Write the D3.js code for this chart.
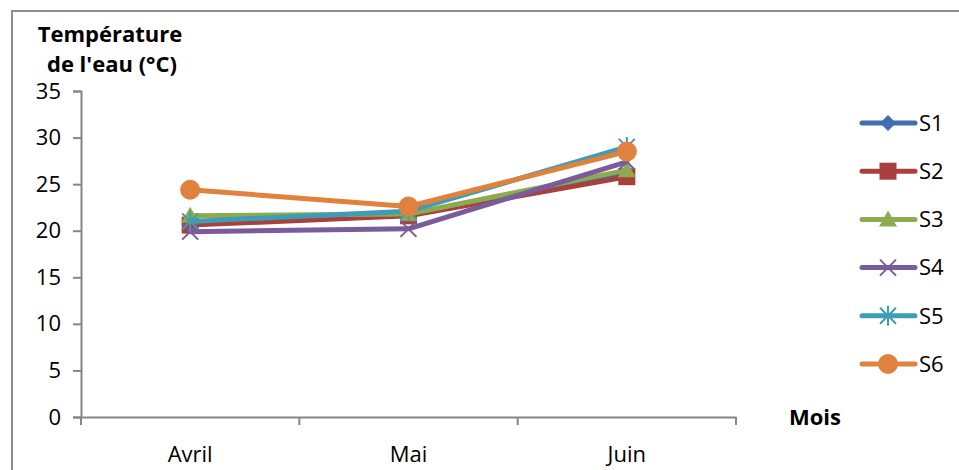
<!DOCTYPE html>
<html><head><meta charset="utf-8">
<script src="https://cdn.jsdelivr.net/npm/d3@7"></script>
<style>body{margin:0;background:#fff}svg{display:block}</style>
</head><body>
<script>
const months = ["Avril", "Mai", "Juin"];
const seriesNames = ["S1", "S2", "S3", "S4", "S5", "S6"];
const S1 = [20.8, 21.7, 26.0];
const S2 = [20.6, 21.6, 25.8];
const S3 = [21.6, 21.8, 26.5];
const S4 = [19.9, 20.2, 27.4];
const S5 = [21.0, 22.1, 29.0];
const S6 = [24.4, 22.6, 28.5];
const yTicks = [0, 5, 10, 15, 20, 25, 30, 35];
const colors = ["#3F6FAE", "#A9403D", "#8CAA4E", "#7A5B9B", "#3E9CB7", "#E0823D"];
const markers = ["diamond", "square", "triangle", "x", "star", "circle"];
const values = [S1, S2, S3, S4, S5, S6];

const W = 959, H = 470;
const svg = d3.select("body").append("svg").attr("width", W).attr("height", H);
const font = "'Open Sans', sans-serif";
const fs = 22;

svg.append("rect").attr("x", 12).attr("y", 11).attr("width", 960).attr("height", 480)
  .attr("fill", "none").attr("stroke", "#8c8c8c").attr("stroke-width", 2);

const x = d3.scaleBand().domain(months).range([81, 736]);
const y = d3.scaleLinear().domain([0, 35]).range([417, 91]);

// y axis
const yAx = svg.append("g").attr("transform", "translate(81,0)")
  .call(d3.axisLeft(y).tickValues(yTicks).tickSize(8).tickPadding(12));
yAx.select(".domain").attr("stroke", "#868686").attr("stroke-width", 2);
yAx.selectAll(".tick line").attr("stroke", "#868686").attr("stroke-width", 2);
yAx.selectAll("text").attr("font-family", font).attr("font-size", fs).attr("fill", "#000");

// x axis
const xAx = svg.append("g").attr("transform", "translate(0,417)")
  .call(d3.axisBottom(x).tickSize(0).tickPadding(29));
xAx.select(".domain").attr("stroke", "#868686").attr("stroke-width", 2);
xAx.selectAll("text").attr("font-family", font).attr("font-size", fs).attr("fill", "#000");
const bounds = months.map(m => x(m)).concat([x(months[months.length-1]) + x.bandwidth()]);
xAx.selectAll(".sep").data(bounds).enter().append("line")
  .attr("x1", d => d).attr("x2", d => d).attr("y1", 0).attr("y2", 8)
  .attr("stroke", "#868686").attr("stroke-width", 2);

// titles
const t = svg.append("text").attr("font-family", font).attr("font-size", fs).attr("font-weight", "bold")
  .attr("text-anchor", "middle");
t.append("tspan").attr("x", 110).attr("y", 42).text("Température");
t.append("tspan").attr("x", 112).attr("y", 72).text("de l'eau (°C)");
svg.append("text").attr("x", 789).attr("y", 425).attr("font-family", font).attr("font-size", fs)
  .attr("font-weight", "bold").text("Mois");

function drawMarker(g, type, cx, cy, color) {
  if (type === "diamond") {
    g.append("path").attr("d", `M${cx},${cy-8}L${cx+8},${cy}L${cx},${cy+8}L${cx-8},${cy}Z`).attr("fill", color);
  } else if (type === "square") {
    g.append("rect").attr("x", cx-8.5).attr("y", cy-8.5).attr("width", 17).attr("height", 17).attr("fill", color);
  } else if (type === "triangle") {
    g.append("path").attr("d", `M${cx},${cy-9}L${cx+9},${cy+7}L${cx-9},${cy+7}Z`).attr("fill", color);
  } else if (type === "x") {
    g.append("path").attr("d", `M${cx-8},${cy-8}L${cx+8},${cy+8}M${cx+8},${cy-8}L${cx-8},${cy+8}`)
      .attr("stroke", color).attr("stroke-width", 2);
  } else if (type === "star") {
    g.append("path").attr("d", `M${cx-8},${cy-8}L${cx+8},${cy+8}M${cx+8},${cy-8}L${cx-8},${cy+8}M${cx},${cy-10}L${cx},${cy+10}`)
      .attr("stroke", color).attr("stroke-width", 2);
  } else if (type === "circle") {
    g.append("circle").attr("cx", cx).attr("cy", cy).attr("r", 10).attr("fill", color);
  }
}

const line = d3.line().x((d, i) => x(months[i]) + x.bandwidth()/2).y(d => y(d));
values.forEach((vals, si) => {
  const g = svg.append("g");
  g.append("path").attr("d", line(vals)).attr("fill", "none").attr("stroke", colors[si])
    .attr("stroke-width", 5).attr("stroke-linejoin", "round").attr("stroke-linecap", "round");
  vals.forEach((v, i) => drawMarker(g, markers[si], x(months[i]) + x.bandwidth()/2, y(v), colors[si]));
});

// legend
seriesNames.forEach((name, si) => {
  const ly = 123 + si * 48.2;
  const g = svg.append("g");
  g.append("line").attr("x1", 862).attr("x2", 915).attr("y1", ly).attr("y2", ly)
    .attr("stroke", colors[si]).attr("stroke-width", 5).attr("stroke-linecap", "round");
  drawMarker(g, markers[si], 888, ly, colors[si]);
  g.append("text").attr("x", 919).attr("y", ly).attr("dy", "0.35em").attr("font-family", font)
    .attr("font-size", fs).text(name);
});
</script>
</body></html>
